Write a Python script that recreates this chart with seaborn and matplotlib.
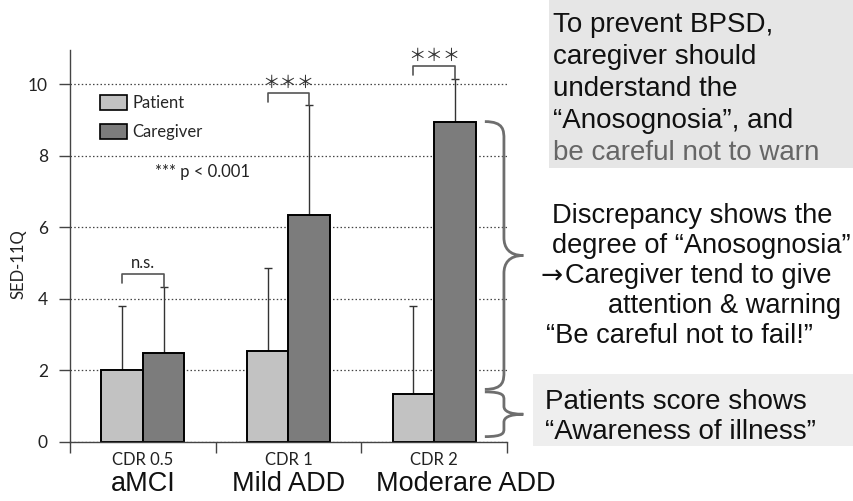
import numpy as np
import pandas as pd
import matplotlib
matplotlib.use("Agg")
import matplotlib.pyplot as plt
import matplotlib.transforms as mtransforms
from matplotlib.path import Path
from matplotlib.patches import PathPatch, Rectangle, Patch
import seaborn as sns

# ---- data -------------------------------------------------------------
stages = ["CDR 0.5", "CDR 1", "CDR 2"]
stage_names = ["aMCI", "Mild ADD", "Moderare ADD"]
raters = ["Patient", "Caregiver"]
patient_mean = [2.0, 2.55, 1.35]
patient_sd = [1.8, 2.3, 2.45]
caregiver_mean = [2.5, 6.35, 8.95]
caregiver_sd = [1.83, 3.05, 1.2]
significance = ["n.s.", "\uff0a\uff0a\uff0a", "\uff0a\uff0a\uff0a"]
yticks = [0, 2, 4, 6, 8, 10]

df = pd.DataFrame({
    "stage": stages * 2,
    "rater": [raters[0]] * 3 + [raters[1]] * 3,
    "score": patient_mean + caregiver_mean,
    "sd": patient_sd + caregiver_sd,
})

# ---- style ------------------------------------------------------------
sns.set_theme(style="white")
plt.rcParams["font.family"] = ["Lato", "DejaVu Sans"]
palette = {"Patient": "#c2c2c2", "Caregiver": "#7c7c7c"}
axis_grey = "#444444"

W, H = 854, 501
fig = plt.figure(figsize=(W / 100, H / 100), dpi=100)


def fx(x):
    return x / W


def fy(y):
    return 1 - y / H


ax = fig.add_axes([fx(70), fy(442), fx(437), 392 / H])

sns.barplot(data=df, x="stage", y="score", hue="rater", order=stages,
            hue_order=raters, palette=palette, width=0.57, errorbar=None,
            saturation=1, edgecolor="black", linewidth=1.4, legend=False,
            ax=ax, zorder=2)

# upward-only error bars (mean + SD)
tops = {}
for rater, container in zip(raters, ax.containers):
    sub = df[df["rater"] == rater].set_index("stage").loc[stages]
    xs = np.array([b.get_x() + b.get_width() / 2 for b in container])
    means = sub["score"].to_numpy()
    sds = sub["sd"].to_numpy()
    ax.errorbar(xs, means, yerr=[np.zeros_like(sds), sds], fmt="none",
                ecolor="#333333", elinewidth=1.0, capsize=3, capthick=1.0,
                zorder=1.5)
    tops[rater] = (xs, means, means + sds)

ax.set_xlim(-0.5, 2.5)
ax.set_ylim(0, 10.95)
ax.set_yticks(yticks)
ax.set_yticklabels([str(t) for t in yticks], fontsize=12.5, color="#222222")
ax.yaxis.grid(True, linestyle=(0, (1.2, 1.8)), color=axis_grey, linewidth=0.9)
ax.xaxis.grid(False)
ax.set_axisbelow(True)

for side in ["top", "right"]:
    ax.spines[side].set_visible(False)
for side in ["left", "bottom"]:
    ax.spines[side].set_color(axis_grey)
    ax.spines[side].set_linewidth(1.0)

ax.set_xticks([-0.5, 0.5, 1.5, 2.5], labels=[""] * 4)
ax.set_xticks([0, 1, 2], labels=stages, minor=True)
ax.tick_params(axis="x", which="major", direction="out", length=8,
               width=1.0, color=axis_grey, bottom=True)
ax.tick_params(axis="x", which="minor", length=0, pad=7, labelsize=12,
               labelcolor="#222222", bottom=True)
ax.tick_params(axis="y", direction="out", length=8, width=1.0,
               color=axis_grey, pad=8, left=True)
ax.set_xlabel("")
ax.set_ylabel("SED-11Q", fontsize=12, color="#222222")
ax.yaxis.set_label_coords(-0.10, 0.455)

# stage names beneath the CDR labels
tr = mtransforms.blended_transform_factory(ax.transData, ax.transAxes)
name_shift = [0.0, 0.0, 0.22]
for i, name in enumerate(stage_names):
    ax.text(i + name_shift[i], -0.106, name, transform=tr, ha="center",
            va="center", fontsize=19.5, family="Liberation Sans",
            color="#111111")

# significance brackets
px_, pm_, pt_ = tops["Patient"]
cx_, cm_, ct_ = tops["Caregiver"]
for i, label in enumerate(significance):
    top = ct_[i] + 0.36
    ax.plot([px_[i], px_[i], cx_[i], cx_[i]],
            [top - 0.26, top, top, ct_[i]],
            color="#555555", lw=1.2, zorder=3, clip_on=False)
    if label == "n.s.":
        ax.text((px_[i] + cx_[i]) / 2, top + 0.1, label, ha="center",
                va="bottom", fontsize=12, color="#222222")
    else:
        ax.text((px_[i] + cx_[i]) / 2, top + 0.03, label, ha="center",
                va="bottom", fontsize=12.5, family="Noto Sans CJK JP",
                color="#333333")

ax.text(0.083, 7.54, "*** p < 0.001", ha="left", va="center",
        fontsize=12, color="#222222")

# legend
handles = [Patch(facecolor=palette[r], edgecolor="black", linewidth=1.2,
                 label=r) for r in raters]
ax.legend(handles=handles, loc="upper left", bbox_to_anchor=(0.068, 0.885),
          frameon=False, fontsize=12, handlelength=1.65, handleheight=1.0,
          handletextpad=0.3, labelspacing=0.75, borderpad=0.0,
          borderaxespad=0.0)


# curly braces beside the moderate-stage bars
def brace(y_top, y_bot, r):
    x0, x1, x2 = 2.348, 2.479, 2.612
    ym = (y_top + y_bot) / 2
    verts = [
        (x0, y_top), (x1, y_top), (x1, y_top - r * 0.5), (x1, y_top - r),
        (x1, ym + r),
        (x1, ym + r * 0.45), (x1 + (x2 - x1) * 0.25, ym), (x2, ym),
        (x1 + (x2 - x1) * 0.25, ym), (x1, ym - r * 0.45), (x1, ym - r),
        (x1, y_bot + r),
        (x1, y_bot + r * 0.5), (x1, y_bot), (x0, y_bot),
    ]
    codes = ([Path.MOVETO] + [Path.CURVE4] * 3 + [Path.LINETO]
             + [Path.CURVE4] * 6 + [Path.LINETO] + [Path.CURVE4] * 3)
    ax.add_patch(PathPatch(Path(verts, codes), facecolor="none",
                           edgecolor="#6e6e6e", lw=2.0, clip_on=False,
                           zorder=3))


brace(caregiver_mean[2], patient_mean[2] + 0.12, 0.5)
brace(patient_mean[2] + 0.05, 0.15, 0.22)

# side notes
fig.patches.append(Rectangle((fx(549), fy(168)), fx(305), 168 / H,
                             transform=fig.transFigure, facecolor="#e6e6e6",
                             edgecolor="none", zorder=0))
fig.patches.append(Rectangle((fx(533), fy(446)), fx(321), 72 / H,
                             transform=fig.transFigure, facecolor="#eeeeee",
                             edgecolor="none", zorder=0))

note_font = dict(family="Liberation Sans", fontsize=20, va="center",
                 ha="left")
top_lines = ["To prevent BPSD,", "caregiver should", "understand the",
             "\u201cAnosognosia\u201d, and", "be careful not to warn"]
for k, line in enumerate(top_lines):
    fig.text(fx(553), fy(25 + 32 * k), line,
             color="#666666" if k == 4 else "#111111", **note_font)

mid_font = {**note_font, "fontsize": 19.6}
mid_lines = [(552, "Discrepancy shows the"),
             (552, "degree of \u201cAnosognosia\u201d"),
             (565, "Caregiver tend to give"),
             (608, "attention & warning"),
             (546, "\u201cBe careful not to fail!\u201d")]
for k, (x, line) in enumerate(mid_lines):
    fig.text(fx(x), fy(216 + 30 * k), line, color="#111111", **mid_font)
fig.text(fx(541), fy(216 + 30 * 2 + 1), "\u2192", color="#111111",
         family="DejaVu Sans", fontsize=19, va="center", ha="left")

for k, line in enumerate(["Patients score shows",
                          "\u201cAwareness of illness\u201d"]):
    fig.text(fx(545), fy(402 + 30 * k), line, color="#111111", **note_font)

fig.savefig("out.png", dpi=100)
